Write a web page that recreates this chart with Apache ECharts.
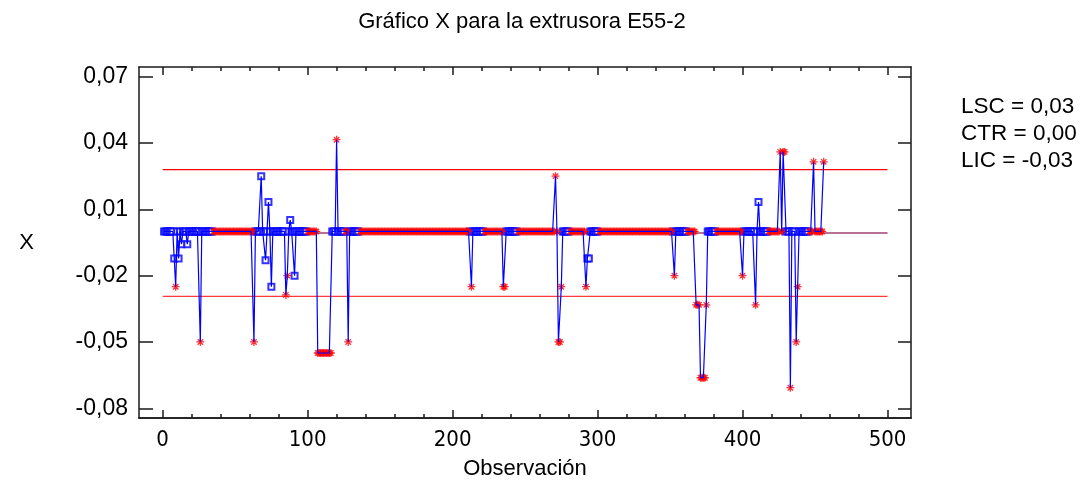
<!DOCTYPE html>
<html>
<head>
<meta charset="utf-8">
<script src="https://cdn.jsdelivr.net/npm/echarts@6/dist/echarts.min.js"></script>
<style>
html, body { margin: 0; padding: 0; background: #ffffff; }
#chart { width: 1085px; height: 485px; }
</style>
</head>
<body>
<div id="chart"></div>
<script>
// X (individuals) chart for extruder E55-2
const chartTitle = 'Gráfico X para la extrusora E55-2';
const observationCount = 456;

// Observations away from the zero level: [observation, X]
const shiftedObservations = [
  [8, -0.0122], [9, -0.025], [11, -0.0122], [13, -0.0058], [17, -0.0058], [26, -0.05],
  [63, -0.05], [68, 0.025], [71, -0.013], [73, 0.0133], [75, -0.025],
  [85, -0.0287], [86, -0.02], [88, 0.0052], [91, -0.02],
  [107, -0.055], [108, -0.055], [109, -0.055], [110, -0.055], [111, -0.055],
  [112, -0.055], [113, -0.055], [114, -0.055], [115, -0.055], [116, -0.055],
  [120, 0.0415], [128, -0.05],
  [213, -0.025], [235, -0.025], [236, -0.025],
  [271, 0.025], [273, -0.05], [274, -0.05], [275, -0.025],
  [292, -0.025], [293, -0.0122], [294, -0.0122],
  [353, -0.02],
  [368, -0.0332], [369, -0.0332], [370, -0.0332], [371, -0.0662], [372, -0.0662],
  [373, -0.0662], [374, -0.0662], [375, -0.0332],
  [400, -0.02], [409, -0.0332], [411, 0.0133],
  [426, 0.036], [428, 0.036], [429, 0.036],
  [433, -0.0707], [437, -0.05], [438, -0.025],
  [449, 0.0315], [456, 0.0315]
];

// Observation ranges flagged by the control tests (red asterisks)
const signalledRanges = [
  [9, 9], [26, 26], [35, 63], [85, 86], [100, 116], [120, 120], [126, 128],
  [136, 211], [213, 213], [222, 236], [245, 275], [281, 292], [301, 351],
  [353, 353], [362, 375], [382, 400], [409, 409], [418, 429], [433, 433],
  [437, 438], [446, 456]
];

// Control limits
const upperLimit = 0.0280;
const centerLine = -0.0007;
const lowerLimit = -0.0294;
const limitSpan = [0, 500];

// Axis ticks
const yTickValues = [-0.08, -0.05, -0.02, 0.01, 0.04, 0.07];
const xTickValues = [0, 100, 200, 300, 400, 500];
const xMinorTickValues = [0, 20, 40, 60, 80, 100, 120, 140, 160, 180, 200, 220, 240,
  260, 280, 300, 320, 340, 360, 380, 400, 420, 440, 460, 480, 500];

const xRange = [-16.3, 516.2];
const yRange = [-0.0844, 0.0744];

const values = [];
for (let i = 1; i <= observationCount; i++) values.push([i, 0]);
shiftedObservations.forEach(([obs, x]) => { values[obs - 1][1] = x; });

const isSignalled = (obs) => signalledRanges.some(([a, b]) => obs >= a && obs <= b);
const normalPoints = values.filter(p => !isSignalled(p[0]));
const signalPoints = values.filter(p => isSignalled(p[0]));

const decimalComma = (v) => {
  const s = (Math.round(v * 100) / 100 + 0).toFixed(2);
  return (s === '-0.00' ? '0.00' : s).replace('.', ',');
};

const FONT = "'Liberation Sans', Arial, sans-serif";
const NARROW = "'Liberation Sans Narrow', 'Arial Narrow', 'DejaVu Sans Condensed', 'Liberation Sans', sans-serif";
const frameStyle = { color: '#1a1a1a', width: 1.5 };

const asterisk = 'path://M5,0L5,10M0,5L10,5M1.6,1.6L8.4,8.4M1.6,8.4L8.4,1.6';

function xAxisDef(position, ticks, len, withLabels) {
  return {
    type: 'value', position: position, min: xRange[0], max: xRange[1],
    axisLine: { show: withLabels !== null, onZero: false, lineStyle: frameStyle },
    axisTick: { show: true, inside: true, length: len, customValues: ticks, lineStyle: frameStyle },
    axisLabel: withLabels ? {
      show: true, customValues: xTickValues, margin: 11, fontSize: 22,
      color: '#000', fontFamily: NARROW
    } : { show: false },
    splitLine: { show: false }
  };
}

const chart = echarts.init(document.getElementById('chart'), null, { renderer: 'canvas' });
chart.setOption({
  animation: false,
  backgroundColor: '#ffffff',
  grid: { left: 139, top: 67, right: 174, bottom: 66, containLabel: false },
  xAxis: [
    Object.assign(xAxisDef('bottom', xTickValues, 8, true), {
      name: 'Observación', nameLocation: 'middle', nameGap: 40,
      nameTextStyle: { fontSize: 22, color: '#000', fontFamily: FONT }
    }),
    xAxisDef('bottom', xMinorTickValues, 4, false),
    xAxisDef('top', xTickValues, 8, false),
    xAxisDef('top', xMinorTickValues, 4, null)
  ],
  yAxis: [
    {
      type: 'value', position: 'left', min: yRange[0], max: yRange[1],
      axisLine: { show: true, onZero: false, lineStyle: frameStyle },
      axisTick: { show: true, inside: true, length: 14, customValues: yTickValues, lineStyle: frameStyle },
      axisLabel: {
        show: true, customValues: yTickValues, margin: 11, fontSize: 23, color: '#000',
        fontFamily: FONT, formatter: (v) => decimalComma(v)
      },
      splitLine: { show: false },
      name: 'X', nameLocation: 'middle', nameGap: 105, nameRotate: 0,
      nameTextStyle: { fontSize: 22, color: '#000', fontFamily: FONT }
    },
    {
      type: 'value', position: 'right', min: yRange[0], max: yRange[1],
      axisLine: { show: true, onZero: false, lineStyle: frameStyle },
      axisTick: { show: true, inside: true, length: 13, customValues: yTickValues, lineStyle: frameStyle },
      axisLabel: { show: false },
      splitLine: { show: false }
    }
  ],
  graphic: [
    { type: 'text', x: 522, y: 22, style: { text: chartTitle, fontSize: 22, fontFamily: FONT, fill: '#000', textAlign: 'center', textVerticalAlign: 'middle' } },
    { type: 'text', x: 961, y: 107, style: { text: 'LSC = ' + decimalComma(upperLimit), fontSize: 22.5, fontFamily: FONT, fill: '#000', textAlign: 'left', textVerticalAlign: 'middle' } },
    { type: 'text', x: 961, y: 134, style: { text: 'CTR = ' + decimalComma(centerLine), fontSize: 22.5, fontFamily: FONT, fill: '#000', textAlign: 'left', textVerticalAlign: 'middle' } },
    { type: 'text', x: 961, y: 161, style: { text: 'LIC = ' + decimalComma(lowerLimit), fontSize: 22.5, fontFamily: FONT, fill: '#000', textAlign: 'left', textVerticalAlign: 'middle' } }
  ],
  series: [
    {
      name: 'LSC', type: 'line', silent: true, symbol: 'none', z: 1,
      data: limitSpan.map(x => [x, upperLimit]), lineStyle: { color: '#ff0000', width: 1.3 }
    },
    {
      name: 'CTR', type: 'line', silent: true, symbol: 'none', z: 1,
      data: limitSpan.map(x => [x, centerLine]), lineStyle: { color: '#a04070', width: 1.3 }
    },
    {
      name: 'LIC', type: 'line', silent: true, symbol: 'none', z: 1,
      data: limitSpan.map(x => [x, lowerLimit]), lineStyle: { color: '#ff3a3a', width: 1.3 }
    },
    {
      name: 'En control', type: 'scatter', z: 2, symbol: 'emptyRect', symbolSize: 6,
      data: normalPoints, itemStyle: { color: '#0000ff', borderColor: '#0000ff', borderWidth: 1.2 }
    },
    {
      name: 'Fuera de control', type: 'scatter', z: 2, symbol: asterisk, symbolSize: 8,
      data: signalPoints, itemStyle: { color: 'none', borderColor: '#ff0000', borderWidth: 1.3 }
    },
    {
      name: 'X', type: 'line', z: 3, showSymbol: false, symbol: 'none',
      data: values, lineStyle: { color: '#0000ff', width: 1.2 }
    }
  ]
});
</script>
</body>
</html>
